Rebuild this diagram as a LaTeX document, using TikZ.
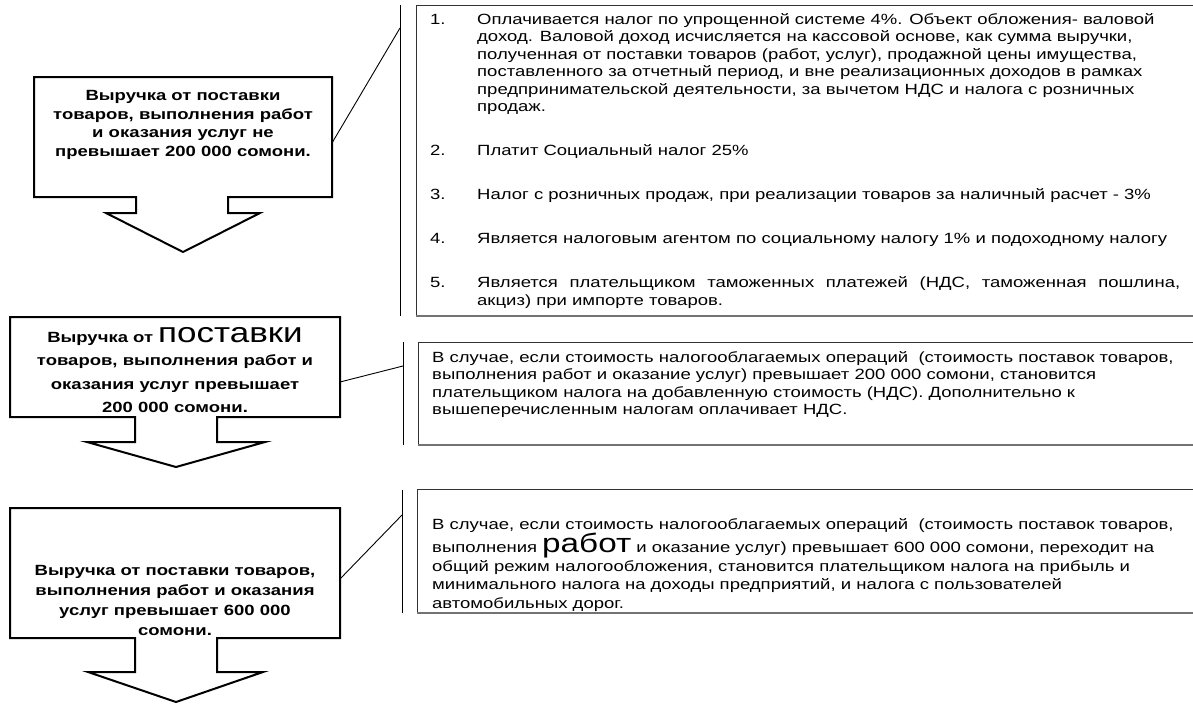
\documentclass[tikz,border=0pt]{standalone}
\usepackage{fontspec}
\setmainfont{Liberation Sans}[FakeStretch=1.25]
\newcommand{\bodysize}{\fontsize{14.8}{17.5}\selectfont}
\newcommand{\boldsize}{\bfseries\fontsize{14.8}{18.5}\selectfont}
\tikzset{
  callout/.style={draw=black, line width=2pt, fill=white, line join=miter},
  leader/.style={draw=black, line width=0.9pt},
  tboxside/.style={draw=black!80, line width=0.9pt},
  tboxbottom/.style={draw=black!55, line width=1.8pt},
  calltext/.style={font=\boldsize, align=center, inner sep=0pt},
  para/.style={font=\bodysize, anchor=base west, inner sep=0pt, align=flush left, text width=760pt},
  num/.style={font=\bodysize, anchor=base west, inner sep=0pt},
}
\begin{document}
\begin{tikzpicture}[x=1pt,y=-1pt]
\useasboundingbox (0,0) rectangle (1193,704);
\clip (0,0) rectangle (1193,704);

% ---------- text box 1 ----------
\draw[tboxside] (416,316) -- (416,5) -- (1200,5);
\draw[tboxbottom] (416,316) -- (1200,316);
\draw[leader] (400,5) coordinate (v1t) -- (400,316) coordinate (v1b);

\node[num] (n1) at (430,24) {1.};
\node[para] (p1) at (477,24) {Оплачивается налог по упрощенной системе 4\%. Объект обложения- валовой\\
доход. Валовой доход исчисляется на кассовой основе, как сумма выручки,\\
полученная от поставки товаров (работ, услуг), продажной цены имущества,\\
поставленного за отчетный период, и вне реализационных доходов в рамках\\
предпринимательской деятельности, за вычетом НДС и налога с розничных\\
продаж.};
\node[num] (n2) at (430,155.5) {2.};
\node[para] (p2) at (477,155.5) {Платит Социальный налог 25\%};
\node[num] (n3) at (430,199.5) {3.};
\node[para] (p3) at (477,199.5) {Налог с розничных продаж, при реализации товаров за наличный расчет - 3\%};
\node[num] (n4) at (430,243.5) {4.};
\node[para] (p4) at (477,243.5) {Является налоговым агентом по социальному налогу 1\% и подоходному налогу};
\node[num] (n5) at (430,287.5) {5.};
\node[para] (p5) at (477,287.5) {\makebox[703pt][s]{Является плательщиком таможенных платежей (НДС, таможенная пошлина,}\\
акциз) при импорте товаров.};

% ---------- text box 2 ----------
\draw[tboxside] (418,445) -- (418,342) -- (1200,342);
\draw[tboxbottom] (418,445) -- (1200,445);
\draw[leader] (403,342) coordinate (v2t) -- (403,445) coordinate (v2b);
\node[para] (q2) at (432,362) {В случае, если стоимость налогооблагаемых операций\ \ (стоимость поставок товаров,\\
выполнения работ и оказание услуг) превышает 200 000 сомони, становится\\
плательщиком налога на добавленную стоимость (НДС). Дополнительно к\\
вышеперечисленным налогам оплачивает НДС.};

% ---------- text box 3 ----------
\begin{scope}
\clip (418,490) rectangle (1200,612);
\node[para, font=\fontsize{14.8}{18.5}\selectfont] (q3) at (432,529) {В случае, если стоимость налогооблагаемых операций\ \ (стоимость поставок товаров,\\
выполнения {\fontsize{26.6}{28}\selectfont работ} и оказание услуг) превышает 600 000 сомони, переходит на\\
общий режим налогообложения, становится плательщиком налога на прибыль и\\
минимального налога на доходы предприятий, и налога с пользователей\\
автомобильных дорог.};
\end{scope}
\draw[tboxside] (417,613) -- (417,489) -- (1200,489);
\draw[tboxbottom] (417,613) -- (1200,613);
\draw[leader] (402,490) coordinate (v3t) -- (402,613) coordinate (v3b);

% ---------- callout 1 ----------
\draw[callout] (34,77) -- (332,77) -- (332,197) -- (228,197) -- (228,213) -- (260,213)
  -- (183,252) -- (106,213) -- (136,213) -- (136,197) -- (34,197) -- cycle;
\node[calltext] (c1) at (183,125) {Выручка от поставки\\товаров, выполнения работ\\и оказания услуг не\\превышает 200 000 сомони.};
\coordinate (c1e) at (332,143);
\coordinate (v1l) at (400,28);
\draw[leader] (c1e) -- (v1l);

% ---------- callout 2 ----------
\draw[callout] (10,317) -- (340,317) -- (340,417) -- (217,417) -- (217,442) -- (265,442)
  -- (176,467) -- (87,442) -- (135,442) -- (135,417) -- (10,417) -- cycle;
\node[calltext, font=\bfseries\fontsize{14.8}{23.5}\selectfont] (c2) at (175,370) {Выручка от {\mdseries\fontsize{28}{30}\selectfont поставки}\\товаров, выполнения работ и\\оказания услуг превышает\\200 000 сомони.};
\coordinate (c2e) at (340,382);
\coordinate (v2l) at (403,366);
\draw[leader] (c2e) -- (v2l);

% ---------- callout 3 ----------
\draw[callout] (10,508) -- (340,508) -- (340,638) -- (217,638) -- (217,672) -- (263,672)
  -- (176,702) -- (88,672) -- (135,672) -- (135,638) -- (10,638) -- cycle;
\node[calltext, font=\bfseries\fontsize{14.8}{20}\selectfont] (c3) at (175,600) {Выручка от поставки товаров,\\выполнения работ и оказания\\услуг превышает 600 000\\сомони.};
\coordinate (c3e) at (340,579);
\coordinate (v3l) at (402,515);
\draw[leader] (c3e) -- (v3l);
\end{tikzpicture}
\end{document}
